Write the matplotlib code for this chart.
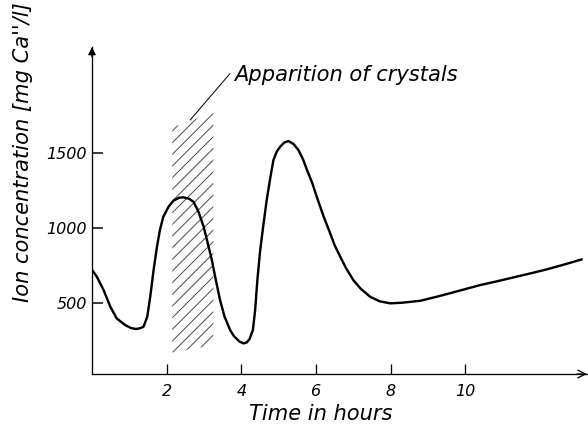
import matplotlib
matplotlib.use('Agg')
import matplotlib.pyplot as plt

# time (hours) and Ca ion concentration
hours = [0.00, 0.13, 0.31, 0.49, 0.66, 0.89, 1.05, 1.18, 1.30, 1.38, 1.48, 1.56,
         1.65, 1.74, 1.82, 1.91, 2.05, 2.18, 2.33, 2.45, 2.60, 2.72, 2.85, 2.99,
         3.10, 3.21, 3.32, 3.43, 3.55, 3.70, 3.80, 3.95, 4.06, 4.15, 4.22, 4.31,
         4.37, 4.43, 4.50, 4.58, 4.68, 4.78, 4.86, 4.95, 5.04, 5.15, 5.26, 5.40,
         5.53, 5.65, 5.76, 5.90, 6.02, 6.20, 6.38, 6.50, 6.65, 6.80, 7.00, 7.20,
         7.45, 7.70, 7.99, 8.30, 8.79, 9.20, 9.51, 10.00, 10.40, 10.85, 11.29,
         11.75, 12.19, 12.65, 13.12]
conc = [722, 675, 587, 476, 398, 353, 333, 327, 333, 342, 409, 542,
        720, 875, 987, 1075, 1142, 1182, 1202, 1205, 1195, 1175, 1110, 1009,
        900, 787, 650, 520, 410, 320, 280, 243, 231, 238, 260, 320,
        453, 653, 840, 1000, 1187, 1340, 1453, 1510, 1542, 1570, 1580, 1560,
        1520, 1460, 1387, 1300, 1209, 1080, 965, 885, 809, 735, 653, 595,
        542, 512, 498, 502, 515, 540, 560, 593, 620, 645, 671,
        698, 725, 757, 791]

# crystal zone (hatched band)
crystal_t = [2.15, 3.25]
crystal_low = [170, 220]
crystal_high = [1670, 1770]

x_ticks = [2, 4, 6, 8, 10]
y_ticks = [500, 1000, 1500]

DPI = 140
def pt(px):
    return px * 72 / DPI

plt.rcParams['hatch.linewidth'] = pt(1.0)

fig = plt.figure(figsize=(588 / DPI, 427 / DPI), dpi=DPI)
ax = fig.add_axes([92 / 588, 53 / 427, 495 / 588, 327 / 427])
ax.set_xlim(0, 13.26)
ax.set_ylim(27, 2207)

ax.fill_between(crystal_t, crystal_low, crystal_high, facecolor='none',
                edgecolor='0.3', linewidth=0, hatch='////')
ax.plot(hours, conc, color='black', lw=pt(2.4), solid_capstyle='round',
        solid_joinstyle='round')

for s in ['top', 'right']:
    ax.spines[s].set_visible(False)
ax.spines['left'].set_linewidth(pt(1.3))
ax.spines['bottom'].set_linewidth(pt(1.3))
ax.annotate('', xy=(1.0, 0), xytext=(0.98, 0), xycoords='axes fraction',
            arrowprops=dict(arrowstyle='->', lw=pt(1.3), color='black',
                            shrinkA=0, shrinkB=0), annotation_clip=False)
ax.annotate('', xy=(0, 1.0), xytext=(0, 0.97), xycoords='axes fraction',
            arrowprops=dict(arrowstyle='-|>', lw=pt(1.3), color='black',
                            shrinkA=0, shrinkB=0, mutation_scale=8),
            annotation_clip=False)

ax.set_xticks(x_ticks)
ax.set_yticks(y_ticks)
ax.tick_params(axis='x', direction='in', length=5, width=pt(1.3),
               labelsize=pt(16), pad=5)
ax.tick_params(axis='y', direction='in', length=pt(11), width=pt(1.5),
               labelsize=pt(16), pad=pt(5))
for lab in ax.get_xticklabels() + ax.get_yticklabels():
    lab.set_fontstyle('italic')

ax.text(-0.139, 0.679, "Ion concentration [mg Ca''/l]", transform=ax.transAxes,
        rotation=90, ha='center', va='center', fontsize=pt(21), style='italic')
ax.text(0.463, -0.123, 'Time in hours', transform=ax.transAxes,
        ha='center', va='center', fontsize=pt(21), style='italic')

ax.annotate('Apparition of crystals', xy=(2.63, 1720), xytext=(3.8, 2020),
            ha='left', va='center', fontsize=pt(21), style='italic',
            arrowprops=dict(arrowstyle='-', lw=pt(1.0), color='black',
                            relpos=(0, 0.8), shrinkA=0, shrinkB=0))

fig.savefig('out.png', dpi=DPI)
